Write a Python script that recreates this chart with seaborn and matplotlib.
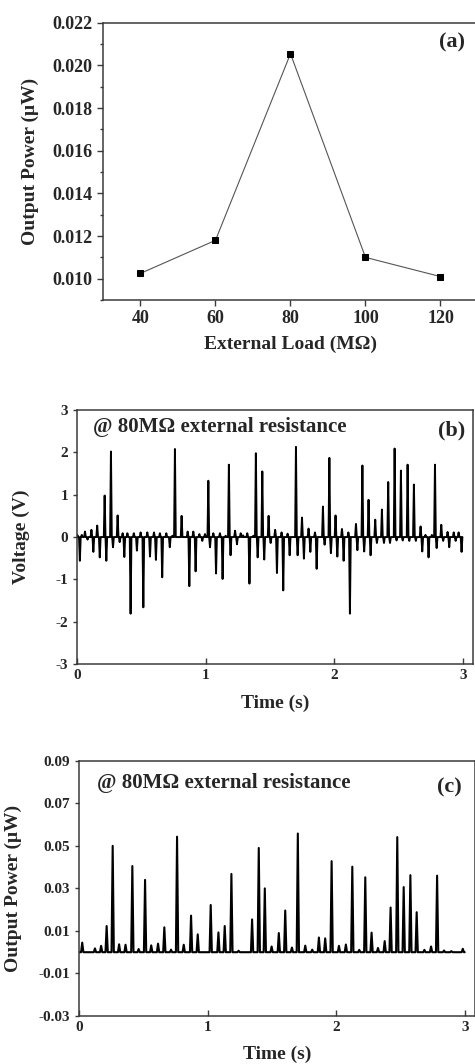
import numpy as np
import pandas as pd
import matplotlib
matplotlib.use("Agg")
import matplotlib.pyplot as plt
import seaborn as sns
from matplotlib.ticker import MultipleLocator, FormatStrFormatter

# (a) output power vs external load
load_mohm = [40, 60, 80, 100, 120]
power_uw = [0.01025, 0.0118, 0.02055, 0.0110, 0.0101]

# (b) voltage trace at 80 MOhm (spike tips, up and down)
volt_t = [0.0, 0.02, 0.035, 0.06, 0.08, 0.11, 0.125, 0.155, 0.175, 0.213, 0.226, 0.262,
          0.278, 0.314, 0.33, 0.353, 0.366, 0.39, 0.415, 0.44, 0.464, 0.493, 0.514, 0.545,
          0.566, 0.597, 0.612, 0.643, 0.661, 0.693, 0.72, 0.74, 0.76, 0.812,
          0.859, 0.872, 0.903, 0.921, 0.95, 0.973, 0.994, 1.02, 1.033, 1.059, 1.08, 1.11,
          1.131, 1.155, 1.18, 1.193, 1.228, 1.243, 1.272, 1.29, 1.323, 1.34, 1.37, 1.39,
          1.404, 1.44, 1.455, 1.489, 1.505, 1.54, 1.554, 1.59, 1.603, 1.637, 1.653, 1.702,
          1.715, 1.749, 1.764, 1.80, 1.814, 1.85, 1.863, 1.912, 1.925, 1.962, 1.974, 2.01,
          2.024, 2.06, 2.073, 2.11, 2.122, 2.169, 2.18, 2.219, 2.233, 2.267, 2.283, 2.319,
          2.332, 2.371, 2.387, 2.42, 2.434, 2.47, 2.485, 2.519, 2.533, 2.571, 2.584, 2.62,
          2.635, 2.672, 2.685, 2.71, 2.734, 2.76, 2.784, 2.797, 2.833, 2.848, 2.882, 2.895,
          2.93, 2.945, 2.968, 2.991]
volt_v = [0.05, -0.56, 0.05, 0.13, -0.06, 0.17, -0.35, 0.27, -0.48, 0.98, -0.56, 2.02,
          -0.24, 0.51, -0.12, 0.09, -0.47, 0.09, -1.81, 0.09, -0.32, 0.11, -1.66, 0.11,
          -0.46, 0.11, -0.54, 0.09, -0.95, 0.09, -0.24, 0.03, 2.08, 0.5,
          0.13, -1.16, 0.13, -0.81, 0.07, -0.09, 0.07, 1.33, -0.24, 0.09, -0.86, 0.09,
          -0.99, 0.03, 1.71, -0.43, 0.15, -0.17, 0.09, 0.04, 0.09, -1.10, 0.03, 1.98,
          -0.48, 1.55, -0.53, 0.50, -0.14, 0.17, -0.85, 0.11, -1.26, 0.08, -0.43, 2.13,
          -0.43, 0.46, -0.51, 0.20, -0.35, 0.11, -0.75, 0.72, -0.18, 1.87, -0.38, 0.51,
          -0.46, 0.19, -0.56, 0.11, -1.81, 0.31, -0.31, 1.69, -0.34, 0.88, -0.43, 0.41,
          -0.14, 0.65, -0.14, 1.30, -0.14, 2.09, -0.08, 1.57, -0.08, 1.71, -0.09, 1.24,
          -0.09, 0.25, -0.34, 0.05, -0.48, 0.05, 1.71, -0.26, 0.29, -0.09, 0.12, -0.24,
          0.11, -0.09, 0.11, -0.35]

# (c) output power spikes at 80 MOhm
pw_t = [0.023, 0.122, 0.17, 0.213, 0.26, 0.31, 0.36, 0.413, 0.462, 0.512, 0.56, 0.613,
        0.662, 0.714, 0.761, 0.813, 0.87, 0.922, 1.023, 1.083, 1.132, 1.184, 1.24, 1.345,
        1.397, 1.444, 1.497, 1.553, 1.603, 1.655, 1.701, 1.759, 1.813, 1.865, 1.914, 1.964,
        2.021, 2.075, 2.125, 2.179, 2.226, 2.275, 2.325, 2.377, 2.423, 2.475, 2.525, 2.577,
        2.626, 2.686, 2.738, 2.785, 2.839, 2.896, 2.985]
pw_p = [0.0045, 0.0018, 0.003, 0.0123, 0.050, 0.0037, 0.0035, 0.0405, 0.0015, 0.034, 0.0032,
        0.004, 0.0117, 0.0012, 0.0543, 0.0035, 0.0172, 0.0084, 0.0222, 0.0093, 0.0123, 0.0368,
        0.0007, 0.0154, 0.049, 0.0300, 0.0027, 0.009, 0.0196, 0.0022, 0.0558, 0.0031, 0.0012,
        0.0069, 0.0065, 0.0428, 0.003, 0.0036, 0.0402, 0.0011, 0.0352, 0.0092, 0.002, 0.0052,
        0.021, 0.0541, 0.0306, 0.0362, 0.0188, 0.0011, 0.0027, 0.0360, 0.0008, 0.0005, 0.0016]


def spike_trace(times, values, half_w, t_end):
    # narrow triangles standing on a zero baseline
    xs, ys = [0.0], [0.0]
    for t, v in zip(times, values):
        xs += [max(t - half_w, 0.0), t, t + half_w]
        ys += [0.0, v, 0.0]
    xs.append(t_end)
    ys.append(0.0)
    return pd.DataFrame({"t": xs, "y": ys})


sns.set_style("ticks")
plt.rcParams["font.family"] = ["Liberation Serif", "DejaVu Serif"]
plt.rcParams["font.weight"] = "bold"
plt.rcParams["axes.labelweight"] = "bold"
plt.rcParams["axes.edgecolor"] = "#3a3a3a"
plt.rcParams["axes.linewidth"] = 1.1
plt.rcParams["axes.unicode_minus"] = False

fig = plt.figure(figsize=(4.75, 10.64), dpi=100)
ax_a = fig.add_axes([0.2168, 0.7180, 0.7895, 0.2606])
ax_b = fig.add_axes([0.1627, 0.3759, 0.8331, 0.2387])
ax_c = fig.add_axes([0.1669, 0.0451, 0.8331, 0.2399])

# ---- (a)
sns.lineplot(x=load_mohm, y=power_uw, ax=ax_a, color="#555555", linewidth=0.8,
             marker="s", markersize=5, markerfacecolor="black", markeredgecolor="black",
             estimator=None)
ax_a.set_xlim(30, 130)
ax_a.set_ylim(0.009, 0.022)
ax_a.set_xticks(load_mohm)
ax_a.yaxis.set_major_locator(MultipleLocator(0.002))
ax_a.yaxis.set_minor_locator(MultipleLocator(0.001))
ax_a.yaxis.set_major_formatter(FormatStrFormatter("%.3f"))
ax_a.tick_params(axis="both", which="major", labelsize=13, length=4, width=1, color="#3a3a3a")
ax_a.tick_params(axis="y", which="minor", length=2.5, width=1, color="#3a3a3a")
ax_a.set_xlabel("External Load (MΩ)", fontsize=14)
ax_a.set_ylabel("Output Power (μW)", fontsize=14)
ax_a.xaxis.set_label_coords(0.5, -0.13)
ax_a.yaxis.set_label_coords(-0.17, 0.5)
ax_a.text(0.93, 0.93, "(a)", transform=ax_a.transAxes, fontsize=16, fontweight="bold",
          ha="center", va="center")

# ---- (b)
df_b = spike_trace(volt_t, volt_v, 0.0065, 2.995)
sns.lineplot(data=df_b, x="t", y="y", ax=ax_b, color="black", linewidth=1.4,
             estimator=None, sort=False)
ax_b.set_xlim(0, 3.08)
ax_b.set_ylim(-3, 3)
ax_b.set_xticks([0, 1, 2, 3])
ax_b.set_yticks([-3, -2, -1, 0, 1, 2, 3])
ax_b.tick_params(axis="x", direction="in", length=4, width=1, labelsize=11, color="#3a3a3a")
ax_b.tick_params(axis="y", direction="out", length=3, width=1, labelsize=11, color="#3a3a3a")
ax_b.set_xlabel("Time (s)", fontsize=14)
ax_b.set_ylabel("Voltage (V)", fontsize=14)
ax_b.xaxis.set_label_coords(0.5, -0.12)
ax_b.yaxis.set_label_coords(-0.12, 0.5)
ax_b.text(0.04, 0.933, "@ 80MΩ external resistance", transform=ax_b.transAxes,
          fontsize=15, fontweight="bold", ha="left", va="center")
ax_b.text(0.947, 0.921, "(b)", transform=ax_b.transAxes, fontsize=16, fontweight="bold",
          ha="center", va="center")

# ---- (c)
df_c = spike_trace(pw_t, pw_p, 0.009, 3.0)
sns.lineplot(data=df_c, x="t", y="y", ax=ax_c, color="black", linewidth=1.5,
             estimator=None, sort=False)
ax_c.set_xlim(0, 3.08)
ax_c.set_ylim(-0.03, 0.09)
ax_c.set_xticks([0, 1, 2, 3])
ax_c.set_yticks([-0.03, -0.01, 0.01, 0.03, 0.05, 0.07, 0.09])
ax_c.yaxis.set_major_formatter(FormatStrFormatter("%.2f"))
ax_c.tick_params(axis="x", direction="in", length=4, width=1, labelsize=11, color="#3a3a3a")
ax_c.tick_params(axis="y", direction="out", length=3, width=1, labelsize=11, color="#3a3a3a")
ax_c.set_xlabel("Time (s)", fontsize=14)
ax_c.set_ylabel("Output Power (μW)", fontsize=14)
ax_c.xaxis.set_label_coords(0.5, -0.115)
ax_c.yaxis.set_label_coords(-0.145, 0.5)
ax_c.text(0.044, 0.914, "@ 80MΩ external resistance", transform=ax_c.transAxes,
          fontsize=15, fontweight="bold", ha="left", va="center")
ax_c.text(0.934, 0.897, "(c)", transform=ax_c.transAxes, fontsize=16, fontweight="bold",
          ha="center", va="center")

for ax in (ax_a, ax_b, ax_c):
    for s in ax.spines.values():
        s.set_visible(True)

fig.savefig("out.png", dpi=100)
